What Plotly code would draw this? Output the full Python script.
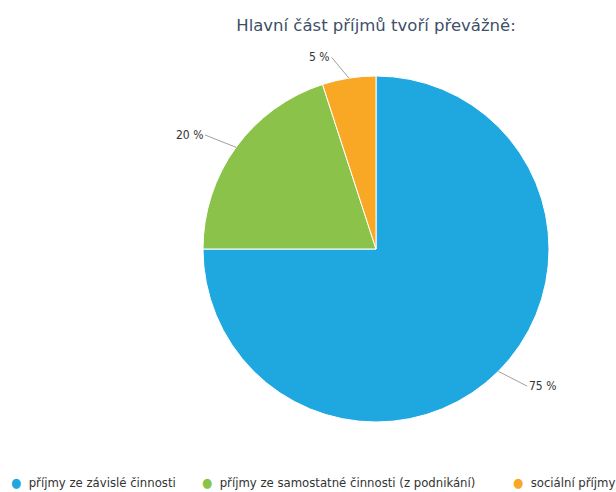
import math
import plotly.graph_objects as go

# ------------------- Data -------------------
categories = [
    "příjmy ze závislé činnosti",
    "příjmy ze samostatné činnosti (z podnikání)",
    "sociální příjmy",
]
shares = [75, 20, 5]
colors = ["#1fa8e0", "#8bc34a", "#f9a825"]

W, H = 616, 492
cx, cy, r = 376, 249, 173

fig = go.Figure(go.Pie(
    labels=categories,
    values=shares,
    textinfo="none",
    sort=False,
    direction="clockwise",
    rotation=0,
    marker=dict(colors=colors, line=dict(color="white", width=1)),
    domain=dict(x=[(cx - r) / W, (cx + r) / W], y=[1 - (cy + r) / H, 1 - (cy - r) / H]),
    hoverinfo="label+percent",
    showlegend=False,
))

# ------------------- Data labels with connectors -------------------
label_font = dict(family="DejaVu Sans Condensed, DejaVu Sans", size=12, color="#333333")
total = sum(shares)
start = 0.0
R2 = r + 21
for v in shares:
    mid = math.radians((start + v / 2) / total * 360)
    start += v
    s, c = math.sin(mid), math.cos(mid)
    tip_x, tip_y = cx + r * s, cy - r * c
    ly = cy - R2 * c
    dx = math.sqrt(max(R2 ** 2 - (ly - cy) ** 2, 0))
    side = 1 if s >= 0 else -1
    lx = cx + side * (dx + 14)
    fig.add_annotation(
        text=f"{v} %",
        xref="paper", yref="paper",
        x=tip_x / W, y=1 - tip_y / H,
        ax=lx - tip_x, ay=ly - tip_y,
        axref="pixel", ayref="pixel",
        xanchor="left" if side > 0 else "right",
        yanchor="middle",
        showarrow=True, arrowhead=0, arrowwidth=1, arrowcolor="#a0a0a0",
        font=label_font,
    )

# ------------------- Legend (single row, runs off the right edge) -------------------
legend_x = [9, 200, 511]
legend_font = dict(family="DejaVu Sans Condensed, DejaVu Sans", size=13, color="#333333")
for name, col, lx in zip(categories, colors, legend_x):
    fig.add_annotation(
        text=f'<span style="color:{col}">●</span>  {name}',
        xref="paper", yref="paper",
        x=lx / W, xanchor="left",
        y=1 - 482 / H, yanchor="middle",
        showarrow=False,
        font=legend_font,
    )

fig.update_layout(
    width=W, height=H,
    margin=dict(l=0, r=0, t=0, b=0),
    paper_bgcolor="white",
    plot_bgcolor="white",
    showlegend=False,
    title=dict(
        text="Hlavní část příjmů tvoří převážně:",
        x=cx / W, xanchor="center",
        y=1 - 25 / H, yanchor="middle",
        font=dict(family="DejaVu Sans", size=16.5, color="#3e5068"),
    ),
)

fig.write_html(
    "out.html",
    config={"displayModeBar": False},
    post_script="document.body.style.margin='0';",
)
